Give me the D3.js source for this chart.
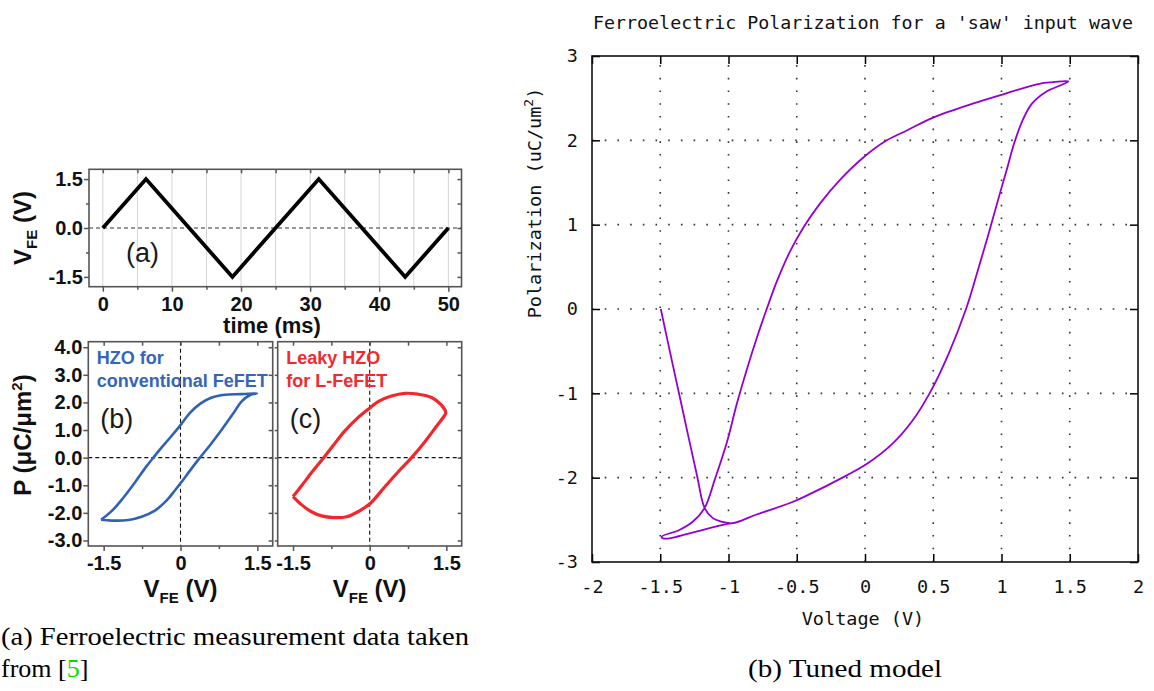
<!DOCTYPE html>
<html><head><meta charset="utf-8">
<script src="https://cdn.jsdelivr.net/npm/d3@7"></script>
<style>body{margin:0;background:#fff} svg{display:block}</style>
</head><body><svg id="c" width="1154" height="691"></svg>
<script>
// ---------- data ----------
const sawTime = [0, 6.25, 18.75, 31.25, 43.75, 50];
const sawVolt = [0, 1.5, -1.5, 1.5, -1.5, 0];
const timeTicks = [0, 10, 20, 30, 40, 50];
const timeMinor = [5, 15, 25, 35, 45];
const timeGrid = [0, 5, 10, 15, 20, 25, 30, 35, 40, 45, 50];
const voltTicksA = [-1.5, 0, 1.5];
const voltMinorA = [-0.75, 0.75];

const hzoV = [-1.55, -1.34, -1.02, -0.76, -0.50, -0.27, -0.11, 0, 0.185, 0.38, 0.58, 0.80, 1.03, 1.19, 1.36, 1.49, 1.19, 0.87, 0.61, 0.38, 0.185, 0, -0.205, -0.40, -0.53, -0.69, -0.89, -1.12, -1.34, -1.55];
const hzoP = [-2.25, -2.28, -2.26, -2.14, -1.92, -1.55, -1.19, -0.93, -0.47, 0, 0.46, 1.0, 1.60, 2.03, 2.27, 2.33, 2.30, 2.28, 2.18, 1.95, 1.62, 1.18, 0.72, 0.30, 0, -0.38, -0.90, -1.46, -1.93, -2.25];
const leakyV = [-1.50, -1.33, -1.14, -0.94, -0.71, -0.45, -0.23, 0.015, 0.29, 0.55, 0.82, 1.08, 1.30, 1.47, 1.49, 1.40, 1.21, 0.945, 0.685, 0.425, 0.165, 0.015, -0.23, -0.49, -0.71, -0.90, -1.14, -1.33, -1.50];
const leakyP = [-1.41, -1.71, -1.96, -2.11, -2.17, -2.14, -1.96, -1.65, -1.07, -0.53, 0, 0.58, 1.12, 1.54, 1.63, 1.91, 2.18, 2.30, 2.33, 2.23, 2.03, 1.82, 1.45, 0.96, 0.45, 0, -0.55, -1.01, -1.41];
const bcVTicks = [-1.5, 0, 1.5];
const bcVMinor = [-0.75, 0.75];
const bcPTicks = [-3, -2, -1, 0, 1, 2, 3, 4];

const modelV = [-1.496, -1.43, -1.36, -1.29, -1.23, -1.175, -1.115, -1.053, -0.97,
  -0.80, -0.55, -0.45, -0.13, 0.02, 0.20, 0.35, 0.48, 0.61, 0.74, 0.82, 0.905, 0.99, 1.04, 1.09, 1.15, 1.22, 1.33, 1.43, 1.49,
  1.38, 1.31, 1.16, 1.0, 0.80, 0.50, 0.31, 0.16, -0.01, -0.19, -0.33, -0.45, -0.55, -0.645, -0.72, -0.79, -0.87, -0.94, -1.01, -1.10, -1.175, -1.26, -1.36, -1.49,
  -1.48, -1.43, -1.285, -1.04, -0.97];
const modelP = [0, -0.50, -1.02, -1.54, -1.98, -2.36, -2.48, -2.52, -2.54,
  -2.44, -2.30, -2.23, -1.97, -1.83, -1.60, -1.32, -0.98, -0.54, 0.0, 0.42, 0.89, 1.38, 1.66, 1.95, 2.22, 2.43, 2.58, 2.65, 2.70,
  2.69, 2.68, 2.62, 2.54, 2.44, 2.27, 2.12, 2.0, 1.80, 1.52, 1.25, 0.97, 0.68, 0.33, 0.0, -0.33, -0.74, -1.13, -1.57, -2.02, -2.36, -2.52, -2.62, -2.70,
  -2.72, -2.72, -2.66, -2.56, -2.54];
const modelXTicks = [-2, -1.5, -1, -0.5, 0, 0.5, 1, 1.5, 2];
const modelYTicks = [-3, -2, -1, 0, 1, 2, 3];
const modelXGrid = [-1.5, -1, -0.5, 0, 0.5, 1, 1.5];
const modelYGrid = [-2, -1, 0, 1, 2];

// ---------- setup ----------
const svg = d3.select("#c");
svg.append("rect").attr("width", 1154).attr("height", 691).attr("fill", "#fff");
const SANS = "'Liberation Sans', Arial, sans-serif";
const MONO = "'DejaVu Sans Mono', 'Liberation Mono', monospace";
const SERIF = "'Liberation Serif', 'DejaVu Serif', serif";
const f1 = v => v.toFixed(1);

function styleAxis(g, opts) {
  g.select(".domain").remove();
  g.selectAll(".tick line").attr("stroke", opts.tickColor || "#444").attr("stroke-width", opts.tickWidth || 1.5);
  g.selectAll(".tick text").attr("font-family", opts.font).attr("font-size", opts.size)
    .attr("font-weight", opts.weight || "normal").attr("fill", opts.color || "#111");
}

// ---------- panel (a) ----------
const xa = d3.scaleLinear().domain([-2, 51.9]).range([89, 461.5]);
const ya = d3.scaleLinear().domain([-1.8, 1.8]).range([286.7, 169.3]);
const ga = svg.append("g");
ga.selectAll("line.grid").data(timeGrid).join("line")
  .attr("x1", d => xa(d)).attr("x2", d => xa(d)).attr("y1", 169.3).attr("y2", 286.7)
  .attr("stroke", "#d4d4d4").attr("stroke-width", 1);
ga.append("line").attr("x1", 89).attr("x2", 461.5).attr("y1", ya(0)).attr("y2", ya(0))
  .attr("stroke", "#777").attr("stroke-width", 1.5).attr("stroke-dasharray", "4,3");
const axOptsL = {font: SANS, size: 20, weight: "bold", color: "#111", tickColor: "#555"};
ga.append("g").attr("transform", "translate(0,286.7)")
  .call(d3.axisBottom(xa).tickValues(timeTicks).tickSize(5).tickPadding(5).tickFormat(d3.format("d")))
  .call(g => styleAxis(g, axOptsL));
ga.append("g").attr("transform", "translate(0,286.7)")
  .call(d3.axisBottom(xa).tickValues(timeMinor).tickSize(3).tickFormat(""))
  .call(g => styleAxis(g, axOptsL));
ga.append("g").attr("transform", "translate(0,169.3)")
  .call(d3.axisTop(xa).tickValues(timeTicks.concat(timeMinor)).tickSize(-4).tickFormat(""))
  .call(g => styleAxis(g, axOptsL));
ga.append("g").attr("transform", "translate(89,0)")
  .call(d3.axisLeft(ya).tickValues(voltTicksA).tickSize(5).tickPadding(1).tickFormat(f1))
  .call(g => styleAxis(g, axOptsL));
ga.append("g").attr("transform", "translate(89,0)")
  .call(d3.axisLeft(ya).tickValues(voltMinorA).tickSize(3).tickFormat(""))
  .call(g => styleAxis(g, axOptsL));
ga.append("g").attr("transform", "translate(461.5,0)")
  .call(d3.axisRight(ya).tickValues(voltTicksA.concat(voltMinorA)).tickSize(-4).tickFormat(""))
  .call(g => styleAxis(g, axOptsL));
ga.append("path").datum(sawTime.map((t, i) => [t, sawVolt[i]]))
  .attr("d", d3.line().x(d => xa(d[0])).y(d => ya(d[1])))
  .attr("fill", "none").attr("stroke", "#000").attr("stroke-width", 3.8).attr("stroke-linejoin", "miter");
ga.append("rect").attr("x", 89).attr("y", 169.3).attr("width", 372.5).attr("height", 117.4)
  .attr("fill", "none").attr("stroke", "#555").attr("stroke-width", 1.6);
ga.append("text").attr("x", 126).attr("y", 262).attr("font-family", SANS).attr("font-size", 27)
  .attr("fill", "#1a1a1a").text("(a)");
ga.append("text").attr("x", 272).attr("y", 333).attr("text-anchor", "middle")
  .attr("font-family", SANS).attr("font-size", 22).attr("font-weight", "bold").attr("fill", "#111").text("time (ms)");
{
  const t = ga.append("text").attr("transform", "translate(31,228) rotate(-90)").attr("text-anchor", "middle")
    .attr("font-family", SANS).attr("font-size", 24).attr("font-weight", "bold").attr("fill", "#111");
  t.append("tspan").text("V");
  t.append("tspan").attr("font-size", 15).attr("dy", 6).text("FE");
  t.append("tspan").attr("dy", -6).text(" (V)");
}

// ---------- panels (b), (c) ----------
const ybc = d3.scaleLinear().domain([-3.2, 4.2]).range([546, 341.7]);
function loopPanel(x0, x1, V, P, color, lines, label, showY) {
  const xs = d3.scaleLinear().domain([-1.8, 1.8]).range([x0, x1]);
  const g = svg.append("g");
  g.append("line").attr("x1", x0).attr("x2", x1).attr("y1", ybc(0)).attr("y2", ybc(0))
    .attr("stroke", "#111").attr("stroke-width", 1.1).attr("stroke-dasharray", "4,3");
  g.append("line").attr("x1", xs(0)).attr("x2", xs(0)).attr("y1", 341.7).attr("y2", 546)
    .attr("stroke", "#111").attr("stroke-width", 1.1).attr("stroke-dasharray", "4,3");
  g.append("g").attr("transform", "translate(0,546)")
    .call(d3.axisBottom(xs).tickValues(bcVTicks).tickSize(5).tickPadding(5).tickFormat(v => v === 0 ? "0" : v.toFixed(1)))
    .call(a => styleAxis(a, axOptsL));
  g.append("g").attr("transform", "translate(0,546)")
    .call(d3.axisBottom(xs).tickValues(bcVMinor).tickSize(3).tickFormat(""))
    .call(a => styleAxis(a, axOptsL));
  g.append("g").attr("transform", "translate(0,341.7)")
    .call(d3.axisTop(xs).tickValues(bcVTicks.concat(bcVMinor)).tickSize(-4).tickFormat(""))
    .call(a => styleAxis(a, axOptsL));
  g.append("g").attr("transform", `translate(${x0},0)`)
    .call(d3.axisLeft(ybc).tickValues(bcPTicks).tickSize(showY ? 5 : 3).tickPadding(1).tickFormat(showY ? f1 : ""))
    .call(a => styleAxis(a, axOptsL));
  g.append("g").attr("transform", `translate(${x1},0)`)
    .call(d3.axisRight(ybc).tickValues(bcPTicks).tickSize(-4).tickFormat(""))
    .call(a => styleAxis(a, axOptsL));
  g.append("path").datum(V.map((v, i) => [v, P[i]]))
    .attr("d", d3.line().x(d => xs(d[0])).y(d => ybc(d[1])).curve(d3.curveCatmullRom.alpha(0.5)))
    .attr("fill", "none").attr("stroke", color.line).attr("stroke-width", color.w).attr("stroke-linejoin", "round");
  g.append("rect").attr("x", x0).attr("y", 341.7).attr("width", x1 - x0).attr("height", 546 - 341.7)
    .attr("fill", "none").attr("stroke", "#555").attr("stroke-width", 1.6);
  lines.forEach((s, i) => g.append("text").attr("x", x0 + 8.5).attr("y", 364 + i * 22.5)
    .attr("font-family", SANS).attr("font-size", 18).attr("font-weight", "bold").attr("fill", color.text).text(s));
  g.append("text").attr("x", x0 + 12).attr("y", 427.5).attr("font-family", SANS).attr("font-size", 27)
    .attr("fill", "#1a1a1a").text(label);
  const t = g.append("text").attr("x", xs(0)).attr("y", 597).attr("text-anchor", "middle")
    .attr("font-family", SANS).attr("font-size", 24).attr("font-weight", "bold").attr("fill", "#111");
  t.append("tspan").text("V");
  t.append("tspan").attr("font-size", 15).attr("dy", 6).text("FE");
  t.append("tspan").attr("dy", -6).text(" (V)");
}
loopPanel(88.3, 272.7, hzoV, hzoP, {line: "#2f62b4", text: "#3565b8", w: 2.6}, ["HZO for", "conventional FeFET"], "(b)", true);
loopPanel(277.7, 461.7, leakyV, leakyP, {line: "#f0282c", text: "#ef2b2f", w: 3.2}, ["Leaky HZO", "for L-FeFET"], "(c)", false);
{
  const t = svg.append("text").attr("transform", "translate(31,435) rotate(-90)").attr("text-anchor", "middle")
    .attr("font-family", SANS).attr("font-size", 24).attr("font-weight", "bold").attr("fill", "#111");
  t.append("tspan").text("P (μC/μm");
  t.append("tspan").attr("font-size", 15).attr("dy", -9).text("2");
  t.append("tspan").attr("dy", 9).text(")");
}

// ---------- model panel ----------
const xm = d3.scaleLinear().domain([-2, 2]).range([592, 1138]);
const ym = d3.scaleLinear().domain([-3, 3]).range([562, 56]);
const gm = svg.append("g");
gm.selectAll("line.vg").data(modelXGrid).join("line")
  .attr("x1", d => xm(d)).attr("x2", d => xm(d)).attr("y1", 562).attr("y2", 56)
  .attr("stroke", "#333").attr("stroke-width", 1.6).attr("stroke-dasharray", "1.6,11.1");
gm.selectAll("line.hg").data(modelYGrid).join("line")
  .attr("x1", 592).attr("x2", 1138).attr("y1", d => ym(d)).attr("y2", d => ym(d))
  .attr("stroke", "#333").attr("stroke-width", 1.6).attr("stroke-dasharray", "1.6,11.1");
const axOptsM = {font: MONO, size: 18.5, color: "#111", tickColor: "#000", tickWidth: 1.5};
gm.append("g").attr("transform", "translate(0,562)")
  .call(d3.axisBottom(xm).tickValues(modelXTicks).tickSize(-8).tickPadding(18).tickFormat(v => String(v)))
  .call(g => styleAxis(g, axOptsM));
gm.append("g").attr("transform", "translate(0,56)")
  .call(d3.axisTop(xm).tickValues(modelXTicks).tickSize(-8).tickFormat(""))
  .call(g => styleAxis(g, axOptsM));
gm.append("g").attr("transform", "translate(592,0)")
  .call(d3.axisLeft(ym).tickValues(modelYTicks).tickSize(-8).tickPadding(14).tickFormat(v => String(v)))
  .call(g => styleAxis(g, axOptsM));
gm.append("g").attr("transform", "translate(1138,0)")
  .call(d3.axisRight(ym).tickValues(modelYTicks).tickSize(-8).tickFormat(""))
  .call(g => styleAxis(g, axOptsM));
gm.append("path").datum(modelV.map((v, i) => [v, modelP[i]]))
  .attr("d", d3.line().x(d => xm(d[0])).y(d => ym(d[1])).curve(d3.curveCatmullRom.alpha(0.5)))
  .attr("fill", "none").attr("stroke", "#9400d3").attr("stroke-width", 1.8).attr("stroke-linejoin", "round");
gm.append("rect").attr("x", 592).attr("y", 56).attr("width", 546).attr("height", 506)
  .attr("fill", "none").attr("stroke", "#111").attr("stroke-width", 1.6);
gm.append("text").attr("x", 863).attr("y", 29).attr("text-anchor", "middle")
  .attr("font-family", MONO).attr("font-size", 18.5).attr("fill", "#111")
  .attr("textLength", 540).attr("lengthAdjust", "spacingAndGlyphs")
  .text("Ferroelectric Polarization for a 'saw' input wave");
gm.append("text").attr("x", 863).attr("y", 625).attr("text-anchor", "middle")
  .attr("font-family", MONO).attr("font-size", 18.5).attr("fill", "#111").text("Voltage (V)");
{
  const t = gm.append("text").attr("transform", "translate(541,203) rotate(-90)").attr("text-anchor", "middle")
    .attr("font-family", MONO).attr("font-size", 18.5).attr("fill", "#111");
  t.append("tspan").text("Polarization (uC/um");
  t.append("tspan").attr("font-size", 13).attr("dy", -8).text("2");
  t.append("tspan").attr("dy", 8).text(")");
}

// ---------- captions ----------
svg.append("text").attr("x", 1).attr("y", 645).attr("font-family", SERIF).attr("font-size", 26).attr("fill", "#000")
  .attr("textLength", 468).attr("lengthAdjust", "spacingAndGlyphs")
  .text("(a) Ferroelectric measurement data taken");
{
  const t = svg.append("text").attr("x", 1).attr("y", 677).attr("font-family", SERIF).attr("font-size", 26).attr("fill", "#000");
  t.append("tspan").text("from [");
  t.append("tspan").attr("fill", "#00e000").text("5");
  t.append("tspan").text("]");
}
svg.append("text").attr("x", 748).attr("y", 677).attr("font-family", SERIF).attr("font-size", 26).attr("fill", "#000")
  .attr("textLength", 194).attr("lengthAdjust", "spacingAndGlyphs").text("(b) Tuned model");
</script></body></html>
